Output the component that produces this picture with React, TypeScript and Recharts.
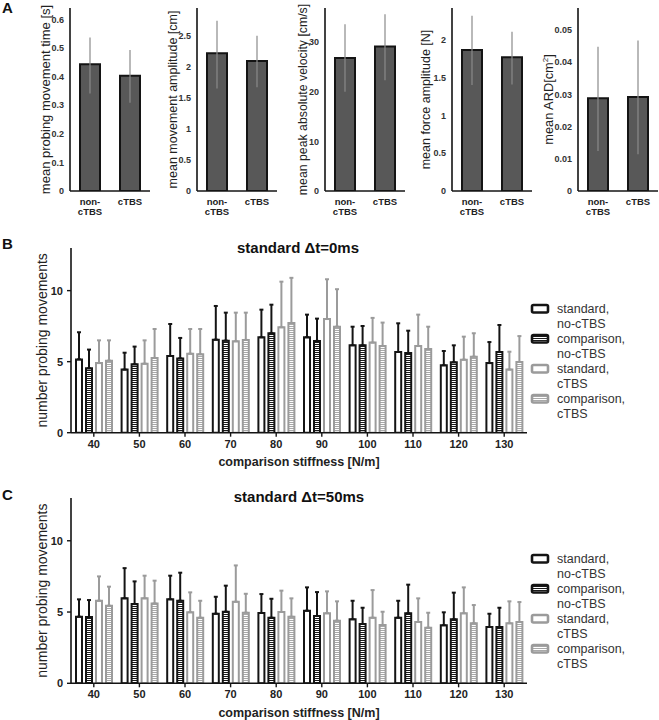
import React from 'react';
import { BarChart, Bar, XAxis, YAxis, ErrorBar, Label } from 'recharts';

const FONT = '"Liberation Sans", Arial, sans-serif';
const BLACK = '#141414';
const GRAY = '#9b9b9b';
const DARK_FILL = '#585858';
const TEXT = '#222';

// ---------- Panel A data ----------
const groupsA = ['non-cTBS', 'cTBS'];
const timeMean = [0.443, 0.403];
const timeErr = [[0.102, 0.094], [0.094, 0.09]];
const amplitudeMean = [2.216, 2.092];
const amplitudeErr = [[0.566, 0.525], [0.424, 0.408]];
const velocityMean = [26.8, 29.1];
const velocityErr = [[6.8, 6.8], [6.8, 6.5]];
const forceMean = [1.868, 1.77];
const forceErr = [[0.464, 0.452], [0.36, 0.34]];
const ardMean = [0.0288, 0.0292];
const ardErr = [[0.0164, 0.016], [0.0178, 0.0175]];

// ---------- Panels B / C data ----------
const stiffness = [40, 50, 60, 70, 80, 90, 100, 110, 120, 130];
const seriesLabels = [
  ['standard,', 'no-cTBS'],
  ['comparison,', 'no-cTBS'],
  ['standard,', 'cTBS'],
  ['comparison,', 'cTBS'],
];

// Δt = 0 ms
const b_stdNo = [5.16, 4.44, 5.4, 6.55, 6.71, 6.71, 6.15, 5.68, 4.74, 4.9];
const b_stdNoSd = [1.91, 1.19, 2.25, 2.37, 1.95, 1.6, 1.31, 2.02, 1.01, 1.48];
const b_cmpNo = [4.53, 4.81, 5.23, 6.48, 7.0, 6.46, 6.15, 5.61, 4.95, 5.68];
const b_cmpNoSd = [1.32, 1.25, 1.44, 1.97, 2.01, 1.57, 1.36, 1.57, 1.2, 1.9];
const b_stdC = [4.9, 4.86, 5.56, 6.43, 7.42, 8.0, 6.34, 6.1, 5.14, 4.44];
const b_stdCSd = [1.6, 1.64, 1.74, 2.02, 3.21, 2.8, 1.74, 2.21, 1.62, 1.26];
const b_cmpC = [5.07, 5.26, 5.52, 6.53, 7.72, 7.46, 6.1, 5.89, 5.35, 4.98];
const b_cmpCSd = [1.43, 2.04, 1.78, 1.92, 3.18, 2.64, 1.65, 1.57, 1.65, 1.82];

// Δt = 50 ms
const c_stdNo = [4.67, 5.96, 5.89, 4.88, 4.93, 5.09, 4.49, 4.6, 4.07, 3.95];
const c_stdNoSd = [1.22, 2.12, 1.66, 1.19, 1.33, 1.64, 1.3, 1.19, 0.91, 0.93];
const c_cmpNo = [4.65, 5.56, 5.79, 5.02, 4.6, 4.72, 4.16, 4.91, 4.49, 3.95];
const c_cmpNoSd = [1.19, 1.59, 1.97, 1.83, 1.33, 1.68, 1.14, 2.01, 1.87, 1.35];
const c_stdC = [5.79, 5.96, 4.98, 5.72, 5.0, 4.91, 4.6, 4.3, 4.91, 4.21];
const c_stdCSd = [1.71, 1.59, 1.4, 2.55, 1.5, 1.54, 1.94, 1.66, 1.82, 1.54];
const c_cmpC = [5.44, 5.6, 4.6, 4.95, 4.67, 4.39, 4.09, 3.9, 4.21, 4.3];
const c_cmpCSd = [1.34, 1.6, 1.19, 1.33, 1.29, 1.36, 0.93, 1.05, 1.28, 1.4];

const yTicksBC = [0, 5, 10];

function buildRows(stdNo, stdNoSd, cmpNo, cmpNoSd, stdC, stdCSd, cmpC, cmpCSd) {
  return stiffness.map((s, i) => ({
    stiffness: s,
    stdNo: stdNo[i], stdNoErr: [0, stdNoSd[i]],
    cmpNo: cmpNo[i], cmpNoErr: [0, cmpNoSd[i]],
    stdC: stdC[i], stdCErr: [0, stdCSd[i]],
    cmpC: cmpC[i], cmpCErr: [0, cmpCSd[i]],
  }));
}

const rowsB = buildRows(b_stdNo, b_stdNoSd, b_cmpNo, b_cmpNoSd, b_stdC, b_stdCSd, b_cmpC, b_cmpCSd);
const rowsC = buildRows(c_stdNo, c_stdNoSd, c_cmpNo, c_cmpNoSd, c_stdC, c_stdCSd, c_cmpC, c_cmpCSd);

// ---------- Panel A ----------
const GroupTick = (props: any) => {
  const { x, y, payload } = props;
  const v = String(payload.value);
  const lines = v === 'non-cTBS' ? ['non-', 'cTBS'] : [v];
  return (
    <text x={x} y={y} textAnchor="middle" fontFamily={FONT} fontSize={9.5} fontWeight="bold" fill={TEXT}>
      {lines.map((l, i) => (
        <tspan key={i} x={x} dy={i === 0 ? 13.5 : 10.5}>{l}</tspan>
      ))}
    </text>
  );
};

type SmallProps = {
  axisX: number;
  axisW: number;
  labelX: number;
  yMax: number;
  ticks: number[];
  mean: number[];
  err: number[][];
  label: React.ReactNode;
  labelSize: number;
};

function SmallPanel({ axisX, axisW, labelX, yMax, ticks, mean, err, label, labelSize }: SmallProps) {
  const data = groupsA.map((g, i) => ({ group: g, value: mean[i], err: err[i] }));
  const left = axisX - axisW;
  const width = axisW + 80 + 1;
  const labelContent = (p: any) => {
    const vb = p.viewBox || { x: 0, y: 0, width: 0, height: 0 };
    const cy = vb.y + vb.height / 2;
    const cx = labelX - left + 4.5;
    return (
      <text transform={`translate(${cx},${cy}) rotate(-90)`} textAnchor="middle" fontFamily={FONT} fontSize={labelSize} fill={TEXT}>
        {label}
      </text>
    );
  };
  return (
    <div style={{ position: 'absolute', left, top: 0 }}>
      <BarChart width={width} height={230} data={data} margin={{ top: 8, right: 1, left: 0, bottom: 9 }} barSize={20}>
        <XAxis
          dataKey="group"
          height={30}
          axisLine={{ stroke: BLACK, strokeWidth: 1.6 }}
          tickLine={false}
          tickSize={0}
          tickMargin={0}
          tick={<GroupTick />}
          interval={0}
        />
        <YAxis
          width={axisW}
          domain={[0, yMax]}
          ticks={ticks}
          allowDataOverflow
          axisLine={{ stroke: BLACK, strokeWidth: 1.6 }}
          tickLine={false}
          tickSize={0}
          tickMargin={6}
          tick={{ fontFamily: FONT, fontSize: 9, fontWeight: 'bold', fill: '#333' }}
        >
          <Label content={labelContent} />
        </YAxis>
        <Bar dataKey="value" fill={DARK_FILL} stroke={BLACK} strokeWidth={2} isAnimationActive={false}>
          <ErrorBar dataKey="err" width={0} stroke="#8a8a8a" strokeWidth={1.2} direction="y" />
        </Bar>
      </BarChart>
    </div>
  );
}

// ---------- Panels B / C ----------
function StiffnessPanel({ top, height, bottom, data }: { top: number; height: number; bottom: number; data: any[] }) {
  const yLabel = (p: any) => {
    const vb = p.viewBox || { x: 0, y: 0, width: 0, height: 0 };
    const cy = vb.y + vb.height / 2;
    return (
      <text transform={`translate(47,${cy}) rotate(-90)`} textAnchor="middle" fontFamily={FONT} fontSize={14} fill={TEXT}>
        number probing movements
      </text>
    );
  };
  const xLabel = (p: any) => {
    const vb = p.viewBox || { x: 0, y: 0, width: 0, height: 0 };
    return (
      <text x={vb.x + vb.width / 2} y={vb.y + 33.5} textAnchor="middle" fontFamily={FONT} fontSize={12.5} fontWeight="bold" fill={TEXT}>
        comparison stiffness [N/m]
      </text>
    );
  };
  return (
    <div style={{ position: 'absolute', left: 0, top }}>
      <BarChart width={659} height={height} data={data} margin={{ top: 18, right: 132, left: 0, bottom }} barSize={6} barGap={4}>
        <XAxis
          dataKey="stiffness"
          height={30}
          interval={0}
          axisLine={{ stroke: BLACK, strokeWidth: 1.6 }}
          tickLine={{ stroke: BLACK, strokeWidth: 1.4 }}
          tickSize={4}
          tickMargin={3}
          tick={{ fontFamily: FONT, fontSize: 11, fontWeight: 'bold', fill: TEXT }}
        >
          <Label content={xLabel} />
        </XAxis>
        <YAxis
          width={71}
          domain={[0, 13]}
          ticks={yTicksBC}
          allowDataOverflow
          axisLine={{ stroke: BLACK, strokeWidth: 1.6 }}
          tickLine={{ stroke: BLACK, strokeWidth: 1.4 }}
          tickSize={4}
          tickMargin={4}
          tick={{ fontFamily: FONT, fontSize: 11, fontWeight: 'bold', fill: TEXT }}
        >
          <Label content={yLabel} />
        </YAxis>
        <Bar dataKey="stdNo" fill="#fff" stroke={BLACK} strokeWidth={2} isAnimationActive={false}>
          <ErrorBar dataKey="stdNoErr" width={2} stroke={BLACK} strokeWidth={2} direction="y" />
        </Bar>
        <Bar dataKey="cmpNo" fill="url(#stripeBlack)" stroke={BLACK} strokeWidth={2} isAnimationActive={false}>
          <ErrorBar dataKey="cmpNoErr" width={2} stroke={BLACK} strokeWidth={2} direction="y" />
        </Bar>
        <Bar dataKey="stdC" fill="#fff" stroke={GRAY} strokeWidth={2} isAnimationActive={false}>
          <ErrorBar dataKey="stdCErr" width={2} stroke={GRAY} strokeWidth={2} direction="y" />
        </Bar>
        <Bar dataKey="cmpC" fill="url(#stripeGray)" stroke={GRAY} strokeWidth={2} isAnimationActive={false}>
          <ErrorBar dataKey="cmpCErr" width={2} stroke={GRAY} strokeWidth={2} direction="y" />
        </Bar>
      </BarChart>
    </div>
  );
}

const legendStyles = [
  { fill: '#fff', stroke: BLACK },
  { fill: 'url(#stripeBlack)', stroke: BLACK },
  { fill: '#fff', stroke: GRAY },
  { fill: 'url(#stripeGray)', stroke: GRAY },
];

function LegendBlock({ top }: { top: number }) {
  return (
    <g>
      {seriesLabels.map((lines, i) => {
        const cy = top + i * 30;
        return (
          <g key={i}>
            <rect x={532} y={cy - 3.5} width={16} height={7.5} rx={1.5} fill={legendStyles[i].fill} stroke={legendStyles[i].stroke} strokeWidth={2.6} />
            {lines.map((l, j) => (
              <text key={j} x={557} y={cy + 4.5 + j * 15} fontFamily={FONT} fontSize={12.5} fill="#333">{l}</text>
            ))}
          </g>
        );
      })}
    </g>
  );
}

export default function App() {
  return (
    <div style={{ position: 'absolute', left: 0, top: 0, width: 659, height: 720, background: '#fff', overflow: 'hidden' }}>
      <svg width={0} height={0} style={{ position: 'absolute' }}>
        <defs>
          <pattern id="stripeBlack" patternUnits="userSpaceOnUse" width={4} height={2}>
            <rect width={4} height={2} fill="#fff" />
            <rect width={4} height={1} fill="#1a1a1a" />
          </pattern>
          <pattern id="stripeGray" patternUnits="userSpaceOnUse" width={4} height={2}>
            <rect width={4} height={2} fill="#fff" />
            <rect width={4} height={1} fill="#a8a8a8" />
          </pattern>
        </defs>
      </svg>

      <SmallPanel axisX={70} axisW={70} labelX={45} yMax={0.64} ticks={[0, 0.1, 0.2, 0.3, 0.4, 0.5, 0.6]} mean={timeMean} err={timeErr} labelSize={13} label="mean probing movement time [s]" />
      <SmallPanel axisX={197} axisW={47} labelX={172} yMax={2.945} ticks={[0, 0.5, 1, 1.5, 2, 2.5]} mean={amplitudeMean} err={amplitudeErr} labelSize={12.5} label="mean movement amplitude [cm]" />
      <SmallPanel axisX={325} axisW={45} labelX={302} yMax={36.85} ticks={[0, 10, 20, 30]} mean={velocityMean} err={velocityErr} labelSize={12.3} label="mean peak absolute velocity [cm/s]" />
      <SmallPanel axisX={452} axisW={46} labelX={425} yMax={2.424} ticks={[0, 0.5, 1, 1.5, 2]} mean={forceMean} err={forceErr} labelSize={12.5} label="mean force amplitude [N]" />
      <SmallPanel
        axisX={578}
        axisW={46}
        labelX={548}
        yMax={0.0568}
        ticks={[0, 0.01, 0.02, 0.03, 0.04, 0.05]}
        mean={ardMean}
        err={ardErr}
        labelSize={12.8}
        label={<>
          <tspan>mean ARD[cm</tspan>
          <tspan dy={-5} fontSize={8}>2</tspan>
          <tspan dy={5}>]</tspan>
        </>}
      />

      <StiffnessPanel top={230} height={245} bottom={12.3} data={rowsB} />
      <StiffnessPanel top={480} height={240} bottom={6.7} data={rowsC} />

      <svg width={659} height={720} style={{ position: 'absolute', left: 0, top: 0, pointerEvents: 'none' }}>
        <text x={2} y={13} fontFamily={FONT} fontSize={15} fontWeight="bold" fill="#111">A</text>
        <text x={2} y={249} fontFamily={FONT} fontSize={15} fontWeight="bold" fill="#111">B</text>
        <text x={2} y={500} fontFamily={FONT} fontSize={15} fontWeight="bold" fill="#111">C</text>
        <text x={298} y={253} textAnchor="middle" fontFamily={FONT} fontSize={15} fontWeight="bold" fill="#111">standard Δt=0ms</text>
        <text x={299} y={502} textAnchor="middle" fontFamily={FONT} fontSize={15} fontWeight="bold" fill="#111">standard Δt=50ms</text>
        <LegendBlock top={308.5} />
        <LegendBlock top={558.5} />
      </svg>
    </div>
  );
}
